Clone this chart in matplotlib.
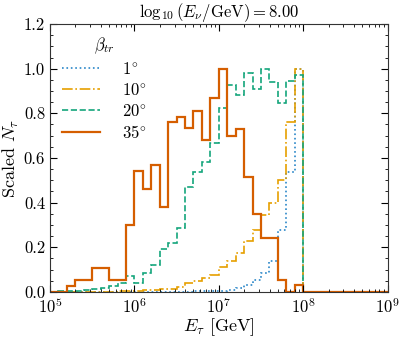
import numpy as np
import matplotlib
matplotlib.use('Agg')
import matplotlib.pyplot as plt
import matplotlib.ticker as ticker

plt.rcParams['font.family'] = 'serif'
plt.rcParams['font.serif'] = ['cmr10']
plt.rcParams['mathtext.fontset'] = 'cm'
plt.rcParams['axes.formatter.use_mathtext'] = True

# bordes de los bins en log10(E_tau / GeV), 0.1 decada
log_edges = np.linspace(5, 9, 41)

# 1 grado
n_1 = [0, 0, 0, 0, 0, 0, 0, 0, 0, 0,
       0, 0, 0, 0, 0, 0.001, 0.001, 0.002, 0.002, 0.003,
       0.005, 0.008, 0.016, 0.03, 0.054, 0.084, 0.14, 0.278, 0.539, 1.0,
       0, 0, 0, 0, 0, 0, 0, 0, 0, 0]
# 10 grados
n_10 = [0, 0, 0, 0, 0, 0.001, 0.001, 0.001, 0.002, 0.003,
        0.005, 0.008, 0.01, 0.012, 0.015, 0.02, 0.039, 0.049, 0.061, 0.076,
        0.113, 0.14, 0.173, 0.228, 0.278, 0.345, 0.397, 0.502, 0.763, 1.0,
        0, 0, 0, 0, 0, 0, 0, 0, 0, 0]
# 20 grados
n_20 = [0.001, 0.002, 0.004, 0.005, 0.007, 0.012, 0.018, 0.025, 0.04, 0.073,
        0.041, 0.084, 0.121, 0.194, 0.221, 0.288, 0.47, 0.539, 0.582, 0.666,
        0.823, 0.925, 0.88, 0.98, 0.91, 1.0, 0.94, 0.845, 0.947, 0.972,
        0, 0, 0, 0, 0, 0, 0, 0, 0, 0]
# 35 grados
n_35 = [0, 0, 0.027, 0.055, 0.055, 0.109, 0.109, 0.055, 0.055, 0.298,
        0.543, 0.461, 0.569, 0.382, 0.76, 0.785, 0.733, 0.812, 0.68, 0.867,
        1.0, 0.70, 0.73, 0.514, 0.35, 0.243, 0.243, 0.054, 0, 0.03,
        0, 0, 0, 0, 0, 0, 0, 0, 0, 0]

etiquetas = [r'$1^{\!\circ}$', r'$10^{\!\circ}$', r'$20^{\!\circ}$', r'$35^{\!\circ}$']
colores = ['#2a86c8', '#e69f00', '#14a57c', '#d55e00']
estilos = [':', '-.', '--', '-']
anchos = [1.2, 1.2, 1.2, 1.6]

fig = plt.figure(figsize=(4.05, 3.39), dpi=100)
ax = fig.add_axes([0.1235, 0.139, 0.8335, 0.79])

bordes = 10**log_edges
for n, lab, c, ls, lw in zip([n_1, n_10, n_20, n_35], etiquetas, colores, estilos, anchos):
    ax.stairs(n, bordes, color=c, ls=ls, lw=lw, label=lab, baseline=0)

ax.set_xscale('log')
ax.set_xlim(1e5, 1e9)
ax.set_ylim(0, 1.2)
ax.yaxis.set_major_locator(ticker.MultipleLocator(0.2))
ax.yaxis.set_minor_locator(ticker.MultipleLocator(0.05))
ax.yaxis.set_major_formatter(ticker.FormatStrFormatter('%.1f'))
ax.xaxis.set_major_locator(ticker.LogLocator(base=10, numticks=10))
ax.xaxis.set_minor_locator(ticker.LogLocator(base=10, subs=np.arange(2, 10), numticks=20))
ax.xaxis.set_minor_formatter(ticker.NullFormatter())
ax.tick_params(which='both', direction='in', top=True, right=True, labelsize=12)
ax.tick_params(which='major', length=5)
ax.tick_params(which='minor', length=2.5)
for s in ax.spines.values():
    s.set_color('#333333')

ax.set_xlabel(r'$E_\tau$ [GeV]', fontsize=13, labelpad=0)
ax.set_ylabel(r'Scaled $N_\tau$', fontsize=13, labelpad=2)
ax.set_title(r'$\log_{10}(E_\nu/\mathrm{GeV}) = 8.00$', fontsize=12, pad=4)
ax.legend(title=r'$\beta_{tr}$', frameon=False, loc='upper left',
          bbox_to_anchor=(0.0, 1.0), fontsize=12, title_fontsize=12,
          handlelength=2.3, handletextpad=1.3, labelspacing=0.3, borderaxespad=0.3)

fig.savefig('out.png', dpi=100)
